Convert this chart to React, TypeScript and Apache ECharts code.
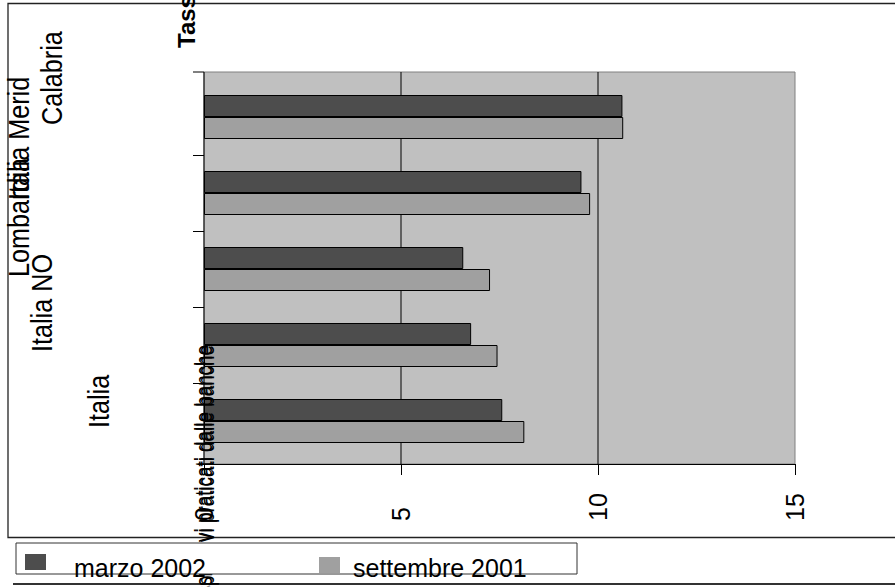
import React, { useEffect, useRef } from "react";
import * as echarts from "echarts";

// ---- data ----
const categories = ["Italia", "Italia NO", "Lombardia", "Italia Merid", "Calabria"];
const seriesNames = ["marzo 2002", "settembre 2001"];
const marzo2002 = [7.57, 6.78, 6.58, 9.58, 10.62];
const settembre2001 = [8.13, 7.45, 7.26, 9.8, 10.64];
const xTickValues = [0, 5, 10, 15];
const titleTexts = ["Tassi attivi praticati dalle banche", "Tassi passivi praticati dalle banche"];

const seriesColors = ["#4D4D4D", "#A0A0A0"];

export default function App() {
  const ref = useRef<HTMLDivElement>(null);

  useEffect(() => {
    if (!ref.current) return;
    const chart = echarts.init(ref.current, null, { renderer: "svg" });
    const fam = '"Liberation Sans", Arial, sans-serif';
    const R = Math.PI / 2;

    // plot frame (layout only)
    const plotL = 204, plotT = 72, plotR = 795, plotB = 464;

    // garbled, rotated category labels (layout only)
    const labelLayout = [
      [99, 428],
      [42, 352],
      [19, 277],
      [19, 200],
      [52, 125],
    ];

    const vtext = (
      text: string,
      x: number,
      y: number,
      size: number,
      align: string,
      opts: any = {}
    ) => ({
      type: "text",
      x,
      y,
      rotation: R,
      scaleX: opts.scaleX ?? 1,
      z: opts.z ?? 50,
      silent: true,
      style: {
        text,
        fill: "#000",
        font: `${opts.bold ? "bold " : ""}${size}px ${fam}`,
        align,
        verticalAlign: "middle",
        textAlign: align,
        textVerticalAlign: "middle",
      },
    });

    const baseGraphics: any[] = [];
    // plot background
    baseGraphics.push({
      type: "rect",
      z: -10,
      silent: true,
      shape: { x: plotL, y: plotT, width: plotR - plotL, height: plotB - plotT },
      style: { fill: "#C0C0C0", stroke: "#808080", lineWidth: 1 },
    });
    baseGraphics.push({
      type: "line",
      z: 5,
      silent: true,
      shape: { x1: plotL, y1: plotT, x2: plotL, y2: plotB },
      style: { stroke: "#000", lineWidth: 1 },
    });
    baseGraphics.push({
      type: "line",
      z: 5,
      silent: true,
      shape: { x1: plotL - 11, y1: plotT, x2: plotL, y2: plotT },
      style: { stroke: "#000", lineWidth: 1 },
    });
    // outer frame
    baseGraphics.push({
      type: "rect",
      z: 1,
      silent: true,
      shape: { x: 8, y: 3.5, width: 940, height: 534 },
      style: { fill: "none", stroke: "#222", lineWidth: 1.3 },
    });
    // second frame top line
    baseGraphics.push({
      type: "line",
      z: 1,
      silent: true,
      shape: { x1: 13, y1: 584, x2: 900, y2: 584 },
      style: { stroke: "#333", lineWidth: 2 },
    });
    // category labels
    categories.forEach((c, i) => {
      baseGraphics.push(vtext(c, labelLayout[i][0], labelLayout[i][1], 30, "left", { scaleX: 0.84 }));
    });
    // top title fragment
    baseGraphics.push(vtext(titleTexts[0], 186, 48, 24, "left", { bold: true }));
    // overlapping bottom titles
    baseGraphics.push(vtext(titleTexts[0], 204, 345, 23, "right", { z: 100, scaleX: 0.82 }));
    baseGraphics.push(vtext(titleTexts[1], 205.5, 345, 23, "right", { z: 100, scaleX: 0.82 }));
    // legend box
    baseGraphics.push({
      type: "rect",
      z: 120,
      silent: true,
      shape: { x: 16, y: 543, width: 561, height: 31 },
      style: { fill: "#fff", stroke: "#333", lineWidth: 1 },
    });
    const legendLayout = [
      [25, 554, 74],
      [319, 557, 353],
    ];
    seriesNames.forEach((n, i) => {
      baseGraphics.push({
        type: "rect",
        z: 121,
        silent: true,
        shape: { x: legendLayout[i][0], y: legendLayout[i][1], width: 21, height: 16 },
        style: { fill: seriesColors[i] },
      });
      baseGraphics.push({
        type: "text",
        z: 122,
        silent: true,
        x: legendLayout[i][2],
        y: 568,
        style: {
          text: n,
          fill: "#000",
          font: `25px ${fam}`,
          align: "left",
          verticalAlign: "middle",
          textAlign: "left",
          textVerticalAlign: "middle",
        },
      });
    });

    const option: any = {
      animation: false,
      backgroundColor: "#fff",
      grid: {
        left: 204,
        top: 79,
        width: 591,
        height: 380,
        show: false,
      },
      xAxis: {
        type: "value",
        min: xTickValues[0],
        max: xTickValues[xTickValues.length - 1],
        interval: xTickValues[1] - xTickValues[0],
        offset: 5,
        axisLine: { show: true, lineStyle: { color: "#000", width: 1 } },
        axisTick: { show: true, length: 11, lineStyle: { color: "#000" } },
        splitLine: { show: false },
        axisLabel: {
          rotate: 90,
          align: "left",
          verticalAlign: "middle",
          margin: 57,
          fontSize: 25,
          color: "#000",
          fontFamily: fam,
        },
      },
      yAxis: {
        type: "category",
        data: categories,
        axisLine: { show: false },
        axisTick: { show: false },
        axisLabel: { show: false },
        splitLine: { show: false },
      },
      series: [
        {
          name: seriesNames[0],
          type: "bar",
          data: marzo2002,
          barWidth: 22,
          barGap: "0%",
          itemStyle: { color: seriesColors[0], borderColor: "#000", borderWidth: 1 },
        },
        {
          name: seriesNames[1],
          type: "bar",
          data: settembre2001,
          barWidth: 22,
          barGap: "0%",
          itemStyle: { color: seriesColors[1], borderColor: "#000", borderWidth: 1 },
        },
      ],
      graphic: { elements: baseGraphics },
    };
    chart.setOption(option);

    // vertical grid lines at inner tick values, through the axis scale
    const gridLines = xTickValues.slice(1, -1).map((v) => {
      const px = chart.convertToPixel({ xAxisIndex: 0 }, v) as number;
      return {
        type: "line",
        z: 1,
        silent: true,
        shape: { x1: px, y1: plotT, x2: px, y2: plotB },
        style: { stroke: "#000", lineWidth: 1 },
      };
    });
    // category boundary ticks, through the category scale
    const catTicks: any[] = [];
    for (let i = 0; i < categories.length - 1; i++) {
      const a = chart.convertToPixel({ yAxisIndex: 0 }, categories[i]) as number;
      const b = chart.convertToPixel({ yAxisIndex: 0 }, categories[i + 1]) as number;
      const y = Math.round((a + b) / 2) + 0.5;
      catTicks.push({
        type: "line",
        z: 5,
        silent: true,
        shape: { x1: plotL - 11, y1: y, x2: plotL, y2: y },
        style: { stroke: "#000", lineWidth: 1 },
      });
    }
    chart.setOption({ graphic: { elements: [...baseGraphics, ...gridLines, ...catTicks] } });

    return () => chart.dispose();
  }, []);

  return (
    <div
      ref={ref}
      style={{ position: "fixed", left: 0, top: 0, width: 895, height: 587 }}
    />
  );
}
